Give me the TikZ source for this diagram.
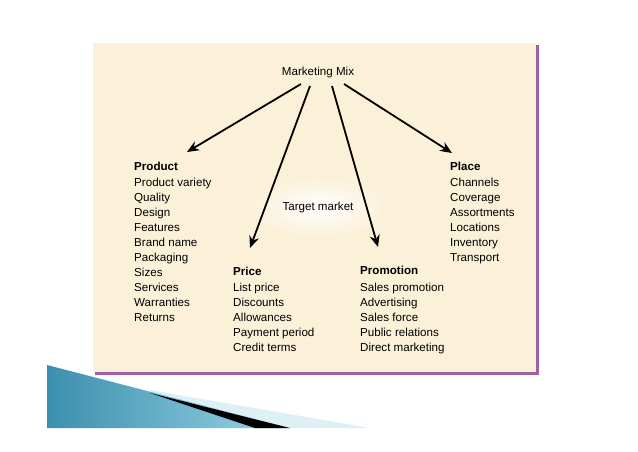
\documentclass[tikz,border=0pt]{standalone}
\usepackage{fontspec}
\setmainfont{Liberation Sans}
\usetikzlibrary{arrows.meta}
\definecolor{panel}{HTML}{FBF0D8}
\definecolor{edge}{HTML}{A060A8}
\definecolor{wdark}{HTML}{3B8FAE}
\definecolor{wlight}{HTML}{9AD4E6}
\definecolor{wpale}{HTML}{DDF0F6}
\begin{document}
\begin{tikzpicture}[x=1pt,y=-1pt,
  lbl/.style={anchor=west,inner sep=0pt,font=\fontsize{11.6}{15}\selectfont,align=left},
  hd/.style={anchor=west,inner sep=0pt,font=\fontsize{11.6}{12}\selectfont\bfseries},
  arr/.style={line width=1.8pt,-{Stealth[length=12pt,width=10pt]}}]
\useasboundingbox (0,0) rectangle (638,451);
\fill[white] (0,0) rectangle (638,451);
% wedge
\fill[wpale] (150,390) -- (370,428) -- (150,428) -- cycle;
\shade[left color=wdark, right color=wlight] (47,365) -- (290,428) -- (47,428) -- cycle;
\fill[black] (150,393) -- (290,428) -- (255,428) -- cycle;
% panel
\fill[edge] (95,45) rectangle (539,375);
\fill[panel] (93,43) rectangle (536,372);
\shade[inner color=white, outer color=panel] (318,207) ellipse (70 and 32);
\node[inner sep=0pt,font=\fontsize{11.6}{12}\selectfont] (mm) at (318,72) {Marketing Mix};
\node[inner sep=0pt,font=\fontsize{11.6}{12}\selectfont] (tm) at (318,207) {Target market};
\node[hd] (prod) at (134,166) {Product};
\node[lbl,anchor=north west] (prodl) at (134,178) {Product variety\\Quality\\Design\\Features\\Brand name\\Packaging\\Sizes\\Services\\Warranties\\Returns};
\node[hd] (price) at (233,271) {Price};
\node[lbl,anchor=north west] (pricel) at (233,283) {List price\\Discounts\\Allowances\\Payment period\\Credit terms};
\node[hd] (promo) at (360,270) {Promotion};
\node[lbl,anchor=north west] (promol) at (360,283) {Sales promotion\\Advertising\\Sales force\\Public relations\\Direct marketing};
\node[hd] (place) at (450,166) {Place};
\node[lbl,anchor=north west] (placel) at (450,178) {Channels\\Coverage\\Assortments\\Locations\\Inventory\\Transport};
\coordinate (a1) at (301,84); \coordinate (b1) at (187,152);
\coordinate (a2) at (310,86); \coordinate (b2) at (250,248);
\coordinate (a3) at (332,86); \coordinate (b3) at (378,247);
\coordinate (a4) at (344,84); \coordinate (b4) at (452,153);
\draw[arr] (a1) -- (b1);
\draw[arr] (a2) -- (b2);
\draw[arr] (a3) -- (b3);
\draw[arr] (a4) -- (b4);
\end{tikzpicture}
\end{document}
